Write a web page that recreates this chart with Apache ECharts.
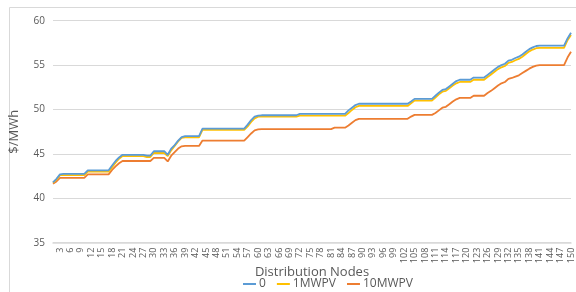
<!DOCTYPE html>
<html>
<head>
<meta charset="utf-8">
<script src="https://cdn.jsdelivr.net/npm/echarts@6/dist/echarts.min.js"></script>
<style>html,body{margin:0;padding:0;background:#fff;}#c{width:576px;height:292px;}</style>
</head>
<body>
<div id="c"></div>
<script>
const categories = Array.from({length: 150}, (_, i) => String(i + 1));
const seriesNames = ['0', '1MWPV', '10MWPV'];
const yTicks = [35, 40, 45, 50, 55, 60];

const s0 = [
  41.8, 42.2, 42.7, 42.75, 42.75, 42.75, 42.75, 42.75, 42.75, 42.75,
  43.15, 43.15, 43.15, 43.15, 43.15, 43.15, 43.15, 43.7, 44.2, 44.6,
  44.9, 44.9, 44.9, 44.9, 44.9, 44.9, 44.9, 44.8, 44.8, 45.3,
  45.3, 45.3, 45.3, 44.9, 45.6, 46.0, 46.5, 46.9, 47.0, 47.0,
  47.0, 47.0, 47.0, 47.85, 47.85, 47.85, 47.85, 47.85, 47.85, 47.85,
  47.85, 47.85, 47.85, 47.85, 47.85, 47.85, 48.3, 48.8, 49.2, 49.3,
  49.35, 49.35, 49.35, 49.35, 49.35, 49.35, 49.35, 49.35, 49.35, 49.35,
  49.35, 49.5, 49.5, 49.5, 49.5, 49.5, 49.5, 49.5, 49.5, 49.5,
  49.5, 49.5, 49.5, 49.5, 49.5, 49.9, 50.2, 50.5, 50.65, 50.65,
  50.65, 50.65, 50.65, 50.65, 50.65, 50.65, 50.65, 50.65, 50.65, 50.65,
  50.65, 50.65, 50.65, 50.9, 51.2, 51.2, 51.2, 51.2, 51.2, 51.2,
  51.55, 51.9, 52.2, 52.3, 52.6, 52.9, 53.2, 53.35, 53.35, 53.35,
  53.35, 53.6, 53.6, 53.6, 53.6, 53.9, 54.2, 54.5, 54.8, 55.0,
  55.15, 55.5, 55.6, 55.8, 55.95, 56.2, 56.5, 56.8, 57.0, 57.15,
  57.2, 57.2, 57.2, 57.2, 57.2, 57.2, 57.2, 57.2, 58.0, 58.65
];
const s1 = [
  41.75, 42.1, 42.6, 42.6, 42.6, 42.6, 42.6, 42.6, 42.6, 42.6,
  43.0, 43.0, 43.0, 43.0, 43.0, 43.0, 43.0, 43.5, 44.0, 44.45,
  44.75, 44.75, 44.75, 44.75, 44.75, 44.75, 44.75, 44.65, 44.65, 45.1,
  45.1, 45.1, 45.1, 44.75, 45.4, 45.9, 46.4, 46.8, 46.85, 46.85,
  46.85, 46.85, 46.85, 47.7, 47.7, 47.7, 47.7, 47.7, 47.7, 47.7,
  47.7, 47.7, 47.7, 47.7, 47.7, 47.7, 48.1, 48.6, 49.0, 49.2,
  49.2, 49.2, 49.2, 49.2, 49.2, 49.2, 49.2, 49.2, 49.2, 49.2,
  49.2, 49.3, 49.3, 49.3, 49.3, 49.3, 49.3, 49.3, 49.3, 49.3,
  49.3, 49.3, 49.3, 49.3, 49.3, 49.6, 49.95, 50.25, 50.4, 50.4,
  50.4, 50.4, 50.4, 50.4, 50.4, 50.4, 50.4, 50.4, 50.4, 50.4,
  50.4, 50.4, 50.4, 50.7, 51.0, 51.0, 51.0, 51.0, 51.0, 51.0,
  51.35, 51.7, 52.0, 52.1, 52.4, 52.7, 52.95, 53.1, 53.1, 53.1,
  53.1, 53.35, 53.35, 53.35, 53.35, 53.65, 53.95, 54.25, 54.55, 54.75,
  54.9, 55.25, 55.35, 55.55, 55.7, 55.95, 56.25, 56.55, 56.75, 56.9,
  56.95, 56.95, 56.95, 56.95, 56.95, 56.95, 56.95, 56.95, 57.8, 58.4
];
const s10 = [
  41.65, 41.9, 42.3, 42.3, 42.3, 42.3, 42.3, 42.3, 42.3, 42.3,
  42.7, 42.7, 42.7, 42.7, 42.7, 42.7, 42.7, 43.2, 43.6, 43.95,
  44.2, 44.2, 44.2, 44.2, 44.2, 44.2, 44.2, 44.2, 44.2, 44.55,
  44.55, 44.55, 44.55, 44.15, 44.8, 45.2, 45.6, 45.85, 45.9, 45.9,
  45.9, 45.9, 45.9, 46.5, 46.5, 46.5, 46.5, 46.5, 46.5, 46.5,
  46.5, 46.5, 46.5, 46.5, 46.5, 46.5, 46.9, 47.3, 47.65, 47.75,
  47.8, 47.8, 47.8, 47.8, 47.8, 47.8, 47.8, 47.8, 47.8, 47.8,
  47.8, 47.8, 47.8, 47.8, 47.8, 47.8, 47.8, 47.8, 47.8, 47.8,
  47.8, 47.95, 47.95, 47.95, 47.95, 48.2, 48.5, 48.8, 48.95, 48.95,
  48.95, 48.95, 48.95, 48.95, 48.95, 48.95, 48.95, 48.95, 48.95, 48.95,
  48.95, 48.95, 48.95, 49.2, 49.4, 49.4, 49.4, 49.4, 49.4, 49.4,
  49.6, 49.9, 50.2, 50.3, 50.6, 50.9, 51.15, 51.3, 51.3, 51.3,
  51.3, 51.55, 51.55, 51.55, 51.55, 51.85, 52.1, 52.4, 52.7, 52.95,
  53.1, 53.45, 53.55, 53.7, 53.85, 54.1, 54.35, 54.6, 54.8, 54.95,
  55.0, 55.0, 55.0, 55.0, 55.0, 55.0, 55.0, 55.0, 55.85, 56.5
];
const colors = ['#5B9BD5', '#FFC000', '#ED7D31'];
const seriesData = [s0, s1, s10];

const chart = echarts.init(document.getElementById('c'), null, {renderer: 'canvas'});
const FONT = 'Open Sans, Noto Sans, sans-serif';
chart.setOption({
  animation: false,
  backgroundColor: '#ffffff',
  color: colors,
  textStyle: {fontFamily: FONT},
  graphic: [{
    type: 'rect', left: 7, top: 5, shape: {width: 567, height: 285},
    style: {fill: 'none', stroke: '#d9d9d9', lineWidth: 1}, silent: true, z: -1
  }],
  grid: {left: 46, right: 5, top: 20.7, bottom: 49.3, containLabel: false},
  legend: {
    data: seriesNames,
    bottom: 2,
    left: 243,
    padding: 0,
    icon: 'rect',
    itemWidth: 13,
    itemHeight: 2,
    itemGap: 11,
    textStyle: {color: '#595959', fontSize: 12, fontFamily: FONT, padding: [0, 0, 0, -2]}
  },
  xAxis: {
    type: 'category',
    data: categories,
    boundaryGap: false,
    name: 'Distribution Nodes',
    nameLocation: 'middle',
    nameGap: 23,
    nameMoveOverlap: false,
    nameTextStyle: {color: '#595959', fontSize: 13, fontFamily: FONT},
    axisLine: {show: true, lineStyle: {color: '#d9d9d9', width: 1.5}},
    axisTick: {show: false},
    axisLabel: {
      rotate: 90,
      color: '#595959',
      fontSize: 9,
      margin: 5,
      interval: function (index) { return index % 3 === 2; }
    },
    splitLine: {show: false}
  },
  yAxis: {
    type: 'value',
    min: yTicks[0],
    max: yTicks[yTicks.length - 1],
    interval: 5,
    name: '$/MWh',
    nameLocation: 'middle',
    nameGap: 32,
    nameTextStyle: {color: '#595959', fontSize: 13, fontFamily: FONT},
    axisLine: {show: false},
    axisTick: {show: false},
    axisLabel: {color: '#595959', fontSize: 10, margin: 8},
    splitLine: {lineStyle: {color: '#d9d9d9', width: 1}}
  },
  series: seriesNames.map((n, i) => ({
    name: n,
    type: 'line',
    data: seriesData[i],
    showSymbol: false,
    symbol: 'none',
    lineStyle: {width: 1.8, color: colors[i]},
    itemStyle: {color: colors[i]},
    z: 3 - i
  }))
});
</script>
</body>
</html>
